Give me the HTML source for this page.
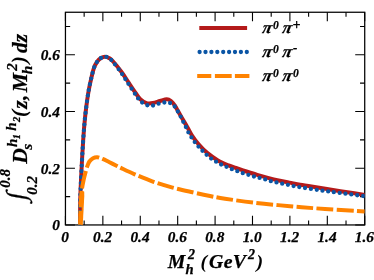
<!DOCTYPE html>
<html><head><meta charset="utf-8"><title>plot</title>
<style>
html,body{margin:0;padding:0;background:#fff;}
svg{display:block;font-family:"Liberation Serif",serif;font-weight:bold;font-style:italic;fill:#000;}
text{stroke:#000;stroke-width:0.25px;}
</style></head><body>
<svg width="374" height="280" viewBox="0 0 374 280">
<rect width="374" height="280" fill="#fff"/>
<defs><clipPath id="c"><rect x="65.45" y="12.25" width="299.27" height="213.10"/></clipPath></defs>
<path d="M65.45 224.95v-9.10M65.45 12.25v9.10M84.15 224.95v-4.40M84.15 12.25v4.40M102.86 224.95v-9.10M102.86 12.25v9.10M121.56 224.95v-4.40M121.56 12.25v4.40M140.27 224.95v-9.10M140.27 12.25v9.10M158.97 224.95v-4.40M158.97 12.25v4.40M177.68 224.95v-9.10M177.68 12.25v9.10M196.38 224.95v-4.40M196.38 12.25v4.40M215.09 224.95v-9.10M215.09 12.25v9.10M233.79 224.95v-4.40M233.79 12.25v4.40M252.49 224.95v-9.10M252.49 12.25v9.10M271.20 224.95v-4.40M271.20 12.25v4.40M289.90 224.95v-9.10M289.90 12.25v9.10M308.61 224.95v-4.40M308.61 12.25v4.40M327.31 224.95v-9.10M327.31 12.25v9.10M346.02 224.95v-4.40M346.02 12.25v4.40M364.72 224.95v-9.10M364.72 12.25v9.10M65.45 224.95h9.50M364.72 224.95h-9.50M65.45 196.59h4.70M364.72 196.59h-4.70M65.45 168.23h9.50M364.72 168.23h-9.50M65.45 139.87h4.70M364.72 139.87h-4.70M65.45 111.51h9.50M364.72 111.51h-9.50M65.45 83.15h4.70M364.72 83.15h-4.70M65.45 54.79h9.50M364.72 54.79h-9.50M65.45 26.43h4.70M364.72 26.43h-4.70" stroke="#000" stroke-width="1.1" fill="none"/>
<rect x="65.45" y="12.25" width="299.27" height="212.70" fill="none" stroke="#000" stroke-width="1.25"/>
<g clip-path="url(#c)" fill="none">
<path d="M80.00 224.80C80.05 220.33 80.05 207.13 80.30 198.00C80.55 188.87 81.02 179.67 81.50 170.00C81.98 160.33 82.62 148.67 83.20 140.00C83.78 131.33 84.33 124.67 85.00 118.00C85.67 111.33 86.55 104.77 87.20 100.00C87.85 95.23 88.23 92.97 88.90 89.40C89.57 85.83 90.35 82.18 91.20 78.60C92.05 75.02 92.98 70.75 94.00 67.90C95.02 65.05 96.13 63.15 97.30 61.50C98.47 59.85 99.70 58.80 101.00 58.00C102.30 57.20 103.72 56.67 105.10 56.70C106.48 56.73 107.97 57.40 109.30 58.20C110.63 59.00 111.03 59.17 113.10 61.50C115.17 63.83 119.08 68.63 121.70 72.20C124.32 75.77 126.45 79.40 128.80 82.90C131.15 86.40 133.88 90.48 135.80 93.20C137.72 95.92 138.52 97.55 140.30 99.20C142.08 100.85 144.40 102.45 146.50 103.10C148.60 103.75 150.65 103.45 152.90 103.10C155.15 102.75 157.68 101.63 160.00 101.00C162.32 100.37 164.97 99.30 166.80 99.30C168.63 99.30 169.68 99.98 171.00 101.00C172.32 102.02 173.07 102.88 174.70 105.40C176.33 107.92 178.72 112.52 180.80 116.10C182.88 119.68 185.30 123.62 187.20 126.90C189.10 130.18 190.30 132.90 192.20 135.80C194.10 138.70 196.10 141.45 198.60 144.30C201.10 147.15 203.98 150.22 207.20 152.90C210.42 155.58 214.33 158.32 217.90 160.40C221.47 162.48 225.58 164.13 228.60 165.40C231.62 166.67 233.02 166.98 236.00 168.00C238.98 169.02 242.97 170.35 246.50 171.50C250.03 172.65 253.63 173.83 257.20 174.90C260.77 175.97 264.33 176.97 267.90 177.90C271.47 178.83 275.02 179.72 278.60 180.50C282.18 181.28 285.82 181.88 289.40 182.60C292.98 183.32 296.42 184.17 300.10 184.80C303.78 185.43 306.03 185.53 311.50 186.40C316.97 187.27 325.75 188.85 332.90 190.00C340.05 191.15 349.08 192.48 354.40 193.30C359.72 194.12 363.07 194.63 364.80 194.90" stroke="#b41a1a" stroke-width="4" stroke-linejoin="round"/>
<path d="M80.00 224.80C80.05 220.33 80.05 207.13 80.30 198.00C80.55 188.87 81.02 179.67 81.50 170.00C81.98 160.33 82.62 148.67 83.20 140.00C83.78 131.33 84.33 124.67 85.00 118.00C85.67 111.33 86.55 104.77 87.20 100.00C87.85 95.23 88.23 92.97 88.90 89.40C89.57 85.83 90.35 82.18 91.20 78.60C92.05 75.02 92.98 70.75 94.00 67.90C95.02 65.05 96.13 63.15 97.30 61.50C98.47 59.85 99.70 58.80 101.00 58.00C102.30 57.20 103.72 56.63 105.10 56.70C106.48 56.77 107.97 57.50 109.30 58.40C110.63 59.30 111.03 59.58 113.10 62.10C115.17 64.62 119.08 69.77 121.70 73.50C124.32 77.23 126.45 80.92 128.80 84.50C131.15 88.08 133.88 92.25 135.80 95.00C137.72 97.75 138.52 99.33 140.30 101.00C142.08 102.67 144.50 104.23 146.50 105.00C148.50 105.77 150.42 105.78 152.30 105.60C154.18 105.42 155.92 104.40 157.80 103.90C159.68 103.40 161.73 102.82 163.60 102.60C165.47 102.38 167.32 102.13 169.00 102.60C170.68 103.07 172.35 104.12 173.70 105.40C175.05 106.68 176.02 108.58 177.10 110.30C178.18 112.02 179.23 113.90 180.20 115.70C181.17 117.50 182.02 119.35 182.90 121.10C183.78 122.85 184.67 124.47 185.50 126.20C186.33 127.93 186.97 129.73 187.90 131.50C188.83 133.27 190.03 135.13 191.10 136.80C192.17 138.47 193.15 139.97 194.30 141.50C195.45 143.03 196.75 144.57 198.00 146.00C199.25 147.43 200.45 148.70 201.80 150.10C203.15 151.50 204.60 153.03 206.10 154.40C207.60 155.77 209.18 157.12 210.80 158.30C212.42 159.48 214.15 160.50 215.80 161.50C217.45 162.50 218.98 163.45 220.70 164.30C222.42 165.15 224.32 165.82 226.10 166.60C227.88 167.38 229.62 168.27 231.40 169.00C233.18 169.73 235.00 170.33 236.80 171.00C238.60 171.67 240.33 172.38 242.20 173.00C244.07 173.62 246.12 174.13 248.00 174.70C249.88 175.27 251.62 175.87 253.50 176.40C255.38 176.93 257.37 177.40 259.30 177.90C261.23 178.40 263.20 178.87 265.10 179.40C267.00 179.93 268.80 180.60 270.70 181.10C272.60 181.60 274.57 181.97 276.50 182.40C278.43 182.83 280.40 183.30 282.30 183.70C284.20 184.10 286.00 184.40 287.90 184.80C289.80 185.20 291.77 185.72 293.70 186.10C295.63 186.48 295.12 186.40 299.50 187.10C303.88 187.80 313.25 189.32 320.00 190.30C326.75 191.28 332.53 192.02 340.00 193.00C347.47 193.98 360.67 195.67 364.80 196.20" stroke="#0a55a5" stroke-width="4.3" stroke-linecap="round" stroke-dasharray="0 5.83" stroke-dashoffset="4.68"/>
<path d="M80.10 224.80C80.13 223.17 80.17 219.13 80.30 215.00C80.43 210.87 80.65 204.17 80.90 200.00C81.15 195.83 81.35 193.33 81.80 190.00C82.25 186.67 82.92 183.15 83.60 180.00C84.28 176.85 85.32 173.30 85.90 171.10C86.48 168.90 86.52 168.40 87.10 166.80C87.68 165.20 88.42 162.93 89.40 161.50C90.38 160.07 91.70 158.92 93.00 158.20C94.30 157.48 95.60 157.08 97.20 157.20C98.80 157.32 100.63 158.10 102.60 158.90C104.57 159.70 106.68 160.85 109.00 162.00C111.32 163.15 114.53 164.82 116.50 165.80C118.47 166.78 117.77 166.48 120.80 167.90C123.83 169.32 129.25 171.98 134.70 174.30C140.15 176.62 147.18 179.58 153.50 181.80C159.82 184.02 166.08 185.85 172.60 187.60C179.12 189.35 186.37 190.90 192.60 192.30C198.83 193.70 204.60 194.93 210.00 196.00C215.40 197.07 217.50 197.57 225.00 198.70C232.50 199.83 244.17 201.55 255.00 202.80C265.83 204.05 278.33 205.17 290.00 206.20C301.67 207.23 312.53 208.12 325.00 209.00C337.47 209.88 358.17 211.08 364.80 211.50" stroke="#ff8300" stroke-width="4" stroke-dasharray="14.40 3.00 16.40 2.60 17.80 3.80 17.90 3.10 16.80 3.37 16.80 3.37 16.80 3.37 16.80 3.37 16.80 3.37 16.80 3.37 16.80 3.37 16.80 3.37 16.80 3.37 16.80 3.37 16.80 3.37 16.80 3.37 16.80 3.37 16.80 50.00"/>
<path d="M81.5 225.6H82.7L83.6 209L84.3 196L84.2 191.6H82Z" fill="#ff8300" stroke="none"/>
</g>
<g font-size="15.3">
<text x="65.15" y="242.4" text-anchor="middle">0</text>
<text x="102.56" y="242.4" text-anchor="middle">0.2</text>
<text x="139.97" y="242.4" text-anchor="middle">0.4</text>
<text x="177.38" y="242.4" text-anchor="middle">0.6</text>
<text x="214.79" y="242.4" text-anchor="middle">0.8</text>
<text x="252.19" y="242.4" text-anchor="middle">1.0</text>
<text x="289.60" y="242.4" text-anchor="middle">1.2</text>
<text x="327.01" y="242.4" text-anchor="middle">1.4</text>
<text x="364.42" y="242.4" text-anchor="middle">1.6</text>
<text x="59.9" y="230.45" text-anchor="end">0</text>
<text x="59.9" y="173.73" text-anchor="end">0.2</text>
<text x="59.9" y="117.01" text-anchor="end">0.4</text>
<text x="59.9" y="60.29" text-anchor="end">0.6</text>
</g>
<g fill="none">
<path d="M199.3 28H247.1" stroke="#b41a1a" stroke-width="4"/>
<path d="M199.6 52H247.3" stroke="#0a55a5" stroke-width="4.3" stroke-linecap="round" stroke-dasharray="0 5.9"/>
<path d="M197.2 76H249.4" stroke="#ff8300" stroke-width="4" stroke-dasharray="14.1 3.6 16.8 3.2 14.5"/>
</g>
<text transform="translate(261.70 33.4) skewX(-12)" font-size="17">π</text><text transform="translate(281.70 33.4) skewX(-12)" font-size="17">π</text><text x="273.0" y="28.50" font-size="11.5">0</text><text x="292.4" y="29.00" font-size="14">+</text>
<text transform="translate(261.70 57.4) skewX(-12)" font-size="17">π</text><text transform="translate(281.70 57.4) skewX(-12)" font-size="17">π</text><text x="273.0" y="52.50" font-size="11.5">0</text><text x="293.1" y="52.35" font-size="13">-</text>
<text transform="translate(261.70 81.4) skewX(-12)" font-size="17">π</text><text transform="translate(281.70 81.4) skewX(-12)" font-size="17">π</text><text x="273.0" y="76.50" font-size="11.5">0</text><text x="293.0" y="76.50" font-size="11.5">0</text>

<g font-size="19.8">
<text x="167.7" y="267.8">M</text>
<text x="187.9" y="259.0" font-size="14">2</text>
<text x="185.4" y="274.0" font-size="14.6">h</text>
<text x="200.5" y="267.5" style="stroke-width:0">(</text>
<text x="209.1" y="267.8">G</text><text x="223.7" y="268.0">e</text><text x="232.7" y="268.0">V</text>
<text x="248.0" y="258.9" font-size="14">2</text>
<text x="256.5" y="267.5" style="stroke-width:0">)</text>
</g>
<g transform="translate(0 280) rotate(-90)">
<text transform="translate(78.43 25.4) skewX(-10)" font-size="27">∫</text>
<text x="92.3" y="10.46" font-size="15">0.8</text>
<text x="85.15" y="36.54" font-size="15">0.2</text>
<text x="116.16" y="26.85" font-size="21.6">D</text>
<text x="130.2" y="31.6" font-size="15.5">s</text>
<text x="132.95" y="16.55" font-size="15">h</text>
<text x="140.85" y="20.45" font-size="10.5">1</text>
<text x="149.33" y="16.2" font-size="15">h</text>
<text x="158.0" y="20.3" font-size="10.5">2</text>
<text x="163.11" y="25.6" font-size="21.4" style="stroke-width:0">(</text>
<text x="171.34" y="26.8" font-size="21.4">z</text>
<text x="180.0" y="26.2" font-size="21.4">,</text>
<text x="187.87" y="27.0" font-size="21.6">M</text>
<text x="209.2" y="16.95" font-size="15">2</text>
<text x="205.7" y="32.0" font-size="15.5">h</text>
<text x="216.78" y="26.04" font-size="21.4" style="stroke-width:0">)</text>
<text x="227.0" y="26.8" font-size="21.4">dz</text>
</g>
</svg>
</body></html>
